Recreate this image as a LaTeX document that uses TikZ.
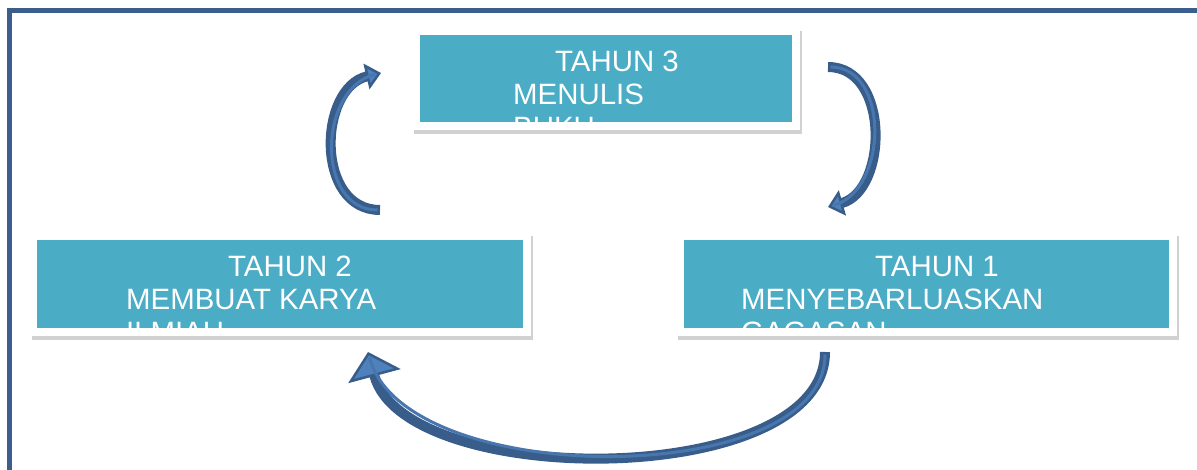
\documentclass[tikz,border=0pt]{standalone}
\usepackage{fontspec}
\setmainfont{Liberation Sans}
\usetikzlibrary{arrows.meta,shadows}

\definecolor{framecol}{HTML}{3B5E8C}
\definecolor{boxcol}{HTML}{4BACC6}
\definecolor{arrowline}{HTML}{385D8A}
\definecolor{arrowfill}{HTML}{4F81BD}

\tikzset{
  outerbox/.style={fill=white,inner sep=0pt,outer sep=0pt,
    drop shadow={shadow xshift=1.5pt,shadow yshift=-4pt,opacity=0.3,fill=black!60}},
  tealbox/.style={fill=boxcol,inner sep=0pt,outer sep=0pt},
  boxtext/.style={text=white,inner sep=0pt,anchor=base west,
    font=\fontsize{29.4}{33}\selectfont},
  cyclearrow/.style={line width=10pt,draw=arrowline,
    postaction={-,draw=arrowfill!70!arrowline,line width=3pt,shorten <=2.5pt,shorten >=6pt}},
  sidetip/.style={-{Triangle[width=26pt,length=15pt,line width=2.5pt,fill=arrowfill]}},
  bottomtip/.style={-{Triangle[width=54pt,length=25pt,line width=2.5pt,fill=arrowfill]}}
}

\begin{document}
\begin{tikzpicture}[x=1pt,y=-1pt]

\useasboundingbox (0,0) rectangle (1197,470);

%% kotak tahun 3 (atas)
\node [outerbox,minimum width=388pt,minimum height=103pt] (o3) at (606,78.5) {};
\node [tealbox,minimum width=372pt,minimum height=87pt] (b3) at (606,78.5) {};
%% kotak tahun 2 (kiri)
\node [outerbox,minimum width=501pt,minimum height=104pt] (o2) at (280.5,284) {};
\node [tealbox,minimum width=486pt,minimum height=88pt] (b2) at (280,284) {};
%% kotak tahun 1 (kanan)
\node [outerbox,minimum width=501pt,minimum height=104pt] (o1) at (926.5,284) {};
\node [tealbox,minimum width=485pt,minimum height=88pt] (b1) at (926.5,284) {};

\begin{scope}
\clip (b3.south west) rectangle (b3.north east);
\node [boxtext] (th3) at (555,72) {TAHUN 3};
\node [boxtext] (l3a) at (513,105) {MENULIS};
\node [boxtext] (l3b) at (513,138) {BUKU};
\end{scope}

\begin{scope}
\clip (b2.south west) rectangle (b2.north east);
\node [boxtext] (th2) at (228,277) {TAHUN 2};
\node [boxtext] (l2a) at (126,310) {MEMBUAT KARYA};
\node [boxtext] (l2b) at (126,343) {ILMIAH};
\end{scope}

\begin{scope}
\clip (b1.south west) rectangle (b1.north east);
\node [boxtext] (th1) at (875,277) {TAHUN 1};
\node [boxtext] (l1a) at (741,310) {MENYEBARLUASKAN};
\node [boxtext] (l1b) at (741,343) {GAGASAN};
\end{scope}

%% ujung panah
\coordinate (p23s) at (380,210);
\coordinate (p23e) at (381,73);
\coordinate (p31s) at (828,67);
\coordinate (p31e) at (828,207);
\coordinate (p12s) at (825,352);
\coordinate (p12e) at (368,352);

\draw [cyclearrow,sidetip] (p23s) .. controls +(-65,0) and +(-63,15) .. (p23e);
\draw [cyclearrow,sidetip] (p31s) .. controls +(62,0) and +(60,-17) .. (p31e);
\draw [cyclearrow,bottomtip] (p12s) .. controls +(0,138) and +(37,138) .. (p12e);

%% bingkai
\draw [framecol,line width=5pt] (9.5,470) -- (9.5,10.5) -- (1197,10.5);

\end{tikzpicture}
\end{document}
